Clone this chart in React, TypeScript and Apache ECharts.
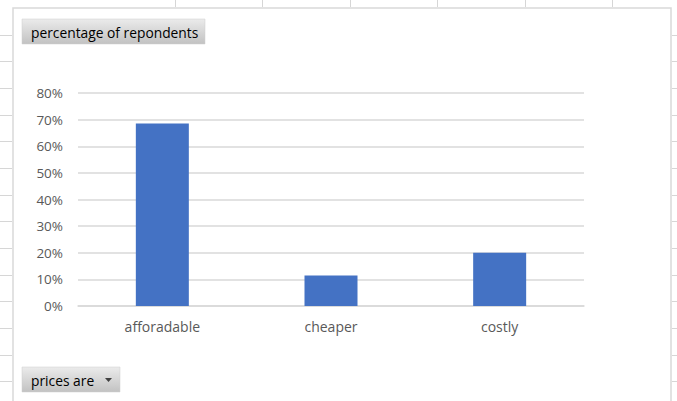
import React, { useEffect, useRef } from "react";
import * as echarts from "echarts";

const categories = ["afforadable", "cheaper", "costly"];
const percentages = [68.5, 11.5, 20.0];
const yMin = 0;
const yMax = 80;
const yStep = 10;
const chartTitle = "percentage of repondents";
const filterLabel = "prices are";

const FONT = "'Open Sans', 'Liberation Sans', sans-serif";

export default function App() {
  const ref = useRef<HTMLDivElement>(null);
  useEffect(() => {
    if (!ref.current) return;
    const chart = echarts.init(ref.current, null, { renderer: "svg" });
    const sheetLines: any[] = [];
    const lineStyle = { stroke: "#d6d6d6", lineWidth: 1 };
    for (let k = 0; k < 14; k++) {
      const y = Math.round(34.7 + 26.67 * k) + 0.5;
      sheetLines.push({ type: "line", shape: { x1: 0, y1: y, x2: 12, y2: y }, style: lineStyle, silent: true });
      sheetLines.push({ type: "line", shape: { x1: 672, y1: y, x2: 677, y2: y }, style: lineStyle, silent: true });
    }
    [175, 262, 350, 437, 525, 612].forEach((x) => {
      sheetLines.push({ type: "line", shape: { x1: x + 0.5, y1: 0, x2: x + 0.5, y2: 7 }, style: lineStyle, silent: true });
    });
    const btnFill = new echarts.graphic.LinearGradient(0, 0, 0, 1, [
      { offset: 0, color: "#ebebeb" },
      { offset: 1, color: "#c2c2c2" },
    ]);
    const btnFill2 = new echarts.graphic.LinearGradient(0, 0, 0, 1, [
      { offset: 0, color: "#ebebeb" },
      { offset: 1, color: "#c2c2c2" },
    ]);
    chart.setOption({
      animation: false,
      backgroundColor: "#ffffff",
      grid: { left: 78, right: 93, top: 93, bottom: 95, containLabel: false },
      xAxis: {
        type: "category",
        data: categories,
        axisTick: { show: false },
        axisLine: { show: true, lineStyle: { color: "#d9d9d9", width: 1.5 } },
        axisLabel: { color: "#595959", fontSize: 14, fontFamily: FONT, margin: 13 },
      },
      yAxis: {
        type: "value",
        min: yMin,
        max: yMax,
        interval: yStep,
        axisLine: { show: false },
        axisTick: { show: false },
        axisLabel: { color: "#595959", fontSize: 13.5, fontFamily: FONT, margin: 15, formatter: (v: number) => v + "%" },
        splitLine: { lineStyle: { color: "#d9d9d9", width: 1.5 } },
      },
      series: [
        {
          type: "bar",
          data: percentages,
          barWidth: 53,
          itemStyle: { color: "#4472c4" },
        },
      ],
      graphic: [
        ...sheetLines,
        {
          type: "rect",
          shape: { x: 13, y: 8, width: 658, height: 400 },
          style: { fill: "none", stroke: "#d9d9d9", lineWidth: 1.5 },
          silent: true,
        },
        {
          type: "rect",
          shape: { x: 22, y: 19, width: 183, height: 25 },
          style: { fill: btnFill, stroke: "#cfcfcf", lineWidth: 0.5 },
          silent: true,
        },
        {
          type: "text",
          x: 31,
          y: 32,
          style: { text: chartTitle, fill: "#000000", font: "13.8px " + FONT, verticalAlign: "middle" },
          silent: true,
        },
        {
          type: "rect",
          shape: { x: 22, y: 367, width: 98, height: 25 },
          style: { fill: btnFill2, stroke: "#cfcfcf", lineWidth: 0.5 },
          silent: true,
        },
        {
          type: "text",
          x: 31,
          y: 380,
          style: { text: filterLabel, fill: "#000000", font: "13.8px " + FONT, verticalAlign: "middle" },
          silent: true,
        },
        {
          type: "polygon",
          shape: { points: [[105, 378], [112, 378], [108.5, 382]] },
          style: { fill: "#404040" },
          silent: true,
        },
      ],
    });
    return () => chart.dispose();
  }, []);
  return <div ref={ref} style={{ position: "fixed", left: 0, top: 0, width: 677, height: 401 }} />;
}
